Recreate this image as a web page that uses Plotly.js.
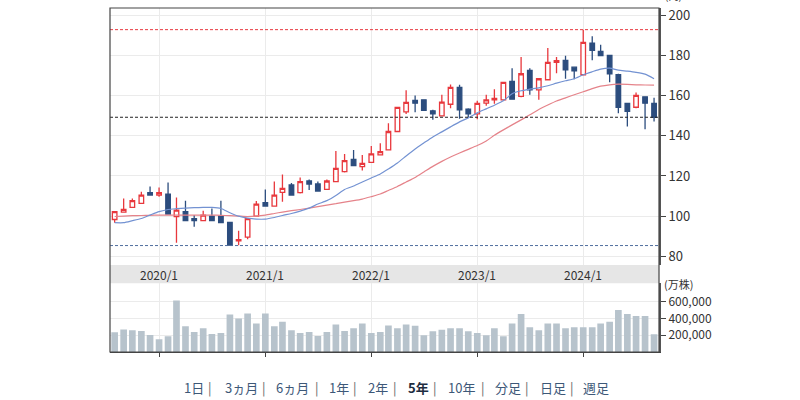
<!DOCTYPE html>
<html>
<head>
<meta charset="utf-8">
<script src="https://cdn.plot.ly/plotly-3.0.1.min.js"></script>
<style>
  html, body { margin: 0; padding: 0; background: #ffffff; }
  #chart { width: 800px; height: 400px; }
</style>
</head>
<body>
<div id="chart"></div>
<script>
// ---- Data (monthly, 2019/8 - 2024/9) ----
const months = [
  '2019-08','2019-09','2019-10','2019-11','2019-12',
  '2020-01','2020-02','2020-03','2020-04','2020-05','2020-06','2020-07','2020-08','2020-09','2020-10','2020-11','2020-12',
  '2021-01','2021-02','2021-03','2021-04','2021-05','2021-06','2021-07','2021-08','2021-09','2021-10','2021-11','2021-12',
  '2022-01','2022-02','2022-03','2022-04','2022-05','2022-06','2022-07','2022-08','2022-09','2022-10','2022-11','2022-12',
  '2023-01','2023-02','2023-03','2023-04','2023-05','2023-06','2023-07','2023-08','2023-09','2023-10','2023-11','2023-12',
  '2024-01','2024-02','2024-03','2024-04','2024-05','2024-06','2024-07','2024-08','2024-09'
];
const openP = [
  98.3,102,104.3,106.3,111.7,
  110.5,111,99.7,102.2,98.7,97.7,100,100,96.8,87.7,89.5,100,
  106.7,105,111.8,115.5,111.7,117.5,116,113.3,117.2,122.2,128.3,124.7,
  126.8,130.5,133,142.2,152,157.7,158,152.5,150,155.8,164.2,153.3,
  151,156.3,158,158,167.2,159.7,172.7,163,168,176.7,177.7,174.3,
  170.5,186.3,182.2,180.2,170.5,156.2,154.3,159.5,156.2
];
const highP = [
  102.5,108.8,108.8,112.2,114.7,
  114.3,116.7,109.3,107.7,100.5,102.7,103.8,107.7,97,92.7,99,107.5,
  113.3,117.2,120.8,116.5,119.2,118.3,117.2,118.3,132.5,131,133,130.5,
  135,136.3,146.3,154.5,162.8,160.2,158.3,153,160.5,165.6,165.5,153.8,
  157.5,160.5,163.3,167,173.8,179.3,173.8,168.7,183.8,179.3,180,174.5,
  193,189.7,185.5,180.5,171,156.5,161.7,159.7,159
];
const lowP = [
  96.7,101.7,104,106,110.3,
  109.7,100.8,86.7,97.5,94.7,97.5,97.5,96.5,85.3,85.5,88.5,99.7,
  104.8,104.8,107.2,110.3,111.3,113,112.3,113,117,121.7,125,122.7,
  126.5,130.3,132.7,142,150.9,151.8,152.5,148,149.8,153.8,148.5,149.3,
  148.3,155,156,157.7,158,159.3,160.5,158,167.8,171.3,168.5,168.3,
  170.3,177.7,179.8,166.7,151.3,144.7,153.8,143.3,147.2
];
const closeP = [
  102.2,103.3,107.7,110.5,110.5,
  111.7,101,103,97.7,97.8,100.5,97.7,96.7,85.5,88.3,98.7,106,
  105,110.5,113.8,110.5,117.2,116,112.5,117.5,123.8,127.7,125.2,126.3,
  131,132.2,142.2,154.2,156.7,156.3,152.7,151,156.8,164.2,153,151,
  156.2,158,158.7,166.7,158.3,171,163,168.5,176.7,177.5,173,172.5,
  186.7,182.7,180,171,154.3,152.2,160.2,156.3,149.3
];
const maShort = [
  96.7,96.7,97.7,98.8,100.5,
  102.2,103.3,103.7,104,104.2,104.3,104.3,103.8,101.7,100,99,98.5,
  98.5,99.3,100.3,101.3,102.5,104,106,107.7,110.3,113.3,115,117,
  119,121,123.5,126.5,130,133.5,136.5,139.5,142,144.5,147,149,
  151.5,153.5,155.3,157.5,161,162.5,163.3,164,165,166.3,167.5,168.5,
  170.5,172,173.3,173.8,172.8,172.3,171.7,170.8,168.5
];
const maLong = [
  99.8,100,100.2,100.3,100.4,
  100.5,100.5,100.5,100.5,100.5,100.5,100.5,100.4,100.2,100,99.8,100,
  100.5,101.3,102,102.7,103.3,104,104.7,105.5,106.2,107,107.7,108.5,
  109.7,111,112.8,114.8,117,119.3,122,124.8,127.3,129.5,131.5,133.3,
  135.2,137.5,140.3,143,145.5,148,150.5,153.2,155.4,157.4,159,160.5,
  162,163.6,164.8,165.5,165.8,165.7,165.5,165.4,165.3
];
const volume = [
  235000,270000,259000,251000,204000,
  153000,188000,616000,306000,239000,282000,216000,227000,447000,400000,459000,341000,
  459000,306000,361000,259000,227000,239000,192000,239000,329000,251000,282000,341000,
  227000,239000,316000,284000,329000,314000,200000,247000,267000,282000,282000,247000,
  227000,200000,282000,188000,341000,455000,294000,259000,341000,341000,282000,294000,
  294000,294000,341000,361000,502000,455000,431000,431000,212000
];
const yearTicks = ['2020-01-01','2021-01-01','2022-01-01','2023-01-01','2024-01-01'];
const yearLabels = ['2020/1','2021/1','2022/1','2023/1','2024/1'];
const priceTicks = [80,100,120,140,160,180,200];
const volumeTicks = [200000,400000,600000];
const menuLabels = ['1日','3ヵ月','6ヵ月','1年','2年','5年','10年','分足','日足','週足'];
const activeMenu = '5年';

// reference levels derived from data
const periodHigh = Math.max(...highP);
const periodLow = Math.min(...lowP);
const lastClose = closeP[closeP.length - 1];

// ---- Layout helpers ----
const L = 110, R = 659;              // plot area pixel edges
const px2paper = p => (p - L) / (R - L);
const menuCenters = [194, 241.5, 292, 338.5, 377.5, 418, 461.5, 507.5, 552.5, 595.5];
const sepCenters = [210, 264, 317, 355, 395, 435, 483, 527, 572];

const font = '"Noto Sans CJK JP", "Noto Sans", sans-serif';

const traces = [
  {
    type: 'bar', x: months, y: volume, xaxis: 'x', yaxis: 'y2',
    marker: { color: '#b7c3cc', line: { width: 0 } }, hoverinfo: 'skip'
  },
  {
    type: 'scatter', mode: 'lines', x: months, y: maLong, xaxis: 'x', yaxis: 'y',
    line: { color: '#e5838a', width: 1.2, shape: 'spline', smoothing: 0.6 }, hoverinfo: 'skip'
  },
  {
    type: 'scatter', mode: 'lines', x: months, y: maShort, xaxis: 'x', yaxis: 'y',
    line: { color: '#7392d2', width: 1.2, shape: 'spline', smoothing: 0.6 }, hoverinfo: 'skip'
  },
  {
    type: 'candlestick', x: months, open: openP, high: highP, low: lowP, close: closeP,
    xaxis: 'x', yaxis: 'y', whiskerwidth: 0,
    increasing: { line: { color: '#e8383d', width: 1.3 }, fillcolor: '#ffffff' },
    decreasing: { line: { color: '#2c4d7e', width: 1.3 }, fillcolor: '#2c4d7e' },
    hoverinfo: 'skip'
  }
];

const annotations = [];
yearTicks.forEach((d, i) => {
  annotations.push({
    x: d, xref: 'x', y: 0.2263, yref: 'paper', text: yearLabels[i], showarrow: false,
    font: { family: font, size: 12, color: '#333' }, xanchor: 'center', yanchor: 'middle'
  });
});
annotations.push({
  x: 1, xref: 'paper', y: 1, yref: 'paper', text: '(円)', showarrow: false,
  xanchor: 'left', yanchor: 'bottom', xshift: 4, yshift: 3,
  font: { family: font, size: 10, color: '#333' }
});
annotations.push({
  x: 1, xref: 'paper', y: 0.1997, yref: 'paper', text: '(万株)', showarrow: false,
  xanchor: 'left', yanchor: 'middle', xshift: 3, yshift: -1,
  font: { family: font, size: 11, color: '#333' }
});
menuLabels.forEach((t, i) => {
  const active = t === activeMenu;
  annotations.push({
    x: px2paper(menuCenters[i]), xref: 'paper', y: -0.102, yref: 'paper', yanchor: 'middle',
    text: active ? '<b>' + t + '</b>' : t, showarrow: false, xanchor: 'center',
    font: { family: font, size: 13, color: active ? '#1e2d40' : '#3d5878' }
  });
});
sepCenters.forEach(c => {
  annotations.push({
    x: px2paper(c), xref: 'paper', y: -0.102, yref: 'paper', yanchor: 'middle',
    text: '|', showarrow: false, xanchor: 'center',
    font: { family: font, size: 13, color: '#666' }
  });
});

const shapes = [
  { type: 'rect', xref: 'paper', yref: 'paper', x0: 0, x1: 1, y0: 0.1997, y1: 0.2529,
    fillcolor: '#e6e6e6', line: { width: 0 }, layer: 'below' },
  { type: 'line', xref: 'paper', yref: 'y', x0: 0, x1: 1, y0: periodHigh, y1: periodHigh,
    line: { color: '#e8393f', width: 1, dash: '3px,2px' } },
  { type: 'line', xref: 'paper', yref: 'y', x0: 0, x1: 1, y0: lastClose, y1: lastClose,
    line: { color: '#222', width: 1, dash: '3px,2px' } },
  { type: 'line', xref: 'paper', yref: 'y', x0: 0, x1: 1, y0: periodLow, y1: periodLow,
    line: { color: '#4f6e9e', width: 1, dash: '3px,2px' } },
  { type: 'rect', xref: 'paper', yref: 'paper', x0: 0, x1: 1, y0: 0, y1: 1,
    line: { color: '#444', width: 1.2 }, fillcolor: 'rgba(0,0,0,0)', layer: 'above' }
];

const layout = {
  width: 800, height: 400,
  margin: { l: L, r: 800 - R, t: 8, b: 48 },
  paper_bgcolor: '#ffffff', plot_bgcolor: '#ffffff',
  showlegend: false, bargap: 0.18, boxgap: 0.2,
  font: { family: font, color: '#333' },
  xaxis: {
    type: 'date', range: ['2019-07-16', '2024-09-18'], anchor: 'y2',
    tickvals: yearTicks, showticklabels: false, ticks: 'outside', ticklen: 4, tickcolor: '#444',
    showgrid: true, gridcolor: '#ebebeb', gridwidth: 1,
    showline: true, linecolor: '#444', linewidth: 1.2, zeroline: false,
    rangeslider: { visible: false }, fixedrange: true
  },
  yaxis: {
    domain: [0.2529, 1], side: 'right', anchor: 'x', range: [75.6, 203.8],
    tickvals: priceTicks, ticks: 'outside', ticklen: 5, tickcolor: '#444',
    showgrid: true, gridcolor: '#ebebeb', showline: true, linecolor: '#555', linewidth: 2,
    zeroline: false, tickfont: { family: font, size: 13, color: '#333' }, fixedrange: true
  },
  yaxis2: {
    domain: [0, 0.1997], side: 'right', anchor: 'x', range: [0, 820000],
    tickvals: volumeTicks, tickformat: ',.0f', ticks: 'outside', ticklen: 5, tickcolor: '#444',
    showgrid: true, gridcolor: '#ebebeb', showline: true, linecolor: '#555', linewidth: 2,
    zeroline: false, tickfont: { family: font, size: 12, color: '#333' }, fixedrange: true
  },
  annotations: annotations,
  shapes: shapes
};

Plotly.newPlot('chart', traces, layout, { displayModeBar: false, staticPlot: true });
</script>
</body>
</html>
